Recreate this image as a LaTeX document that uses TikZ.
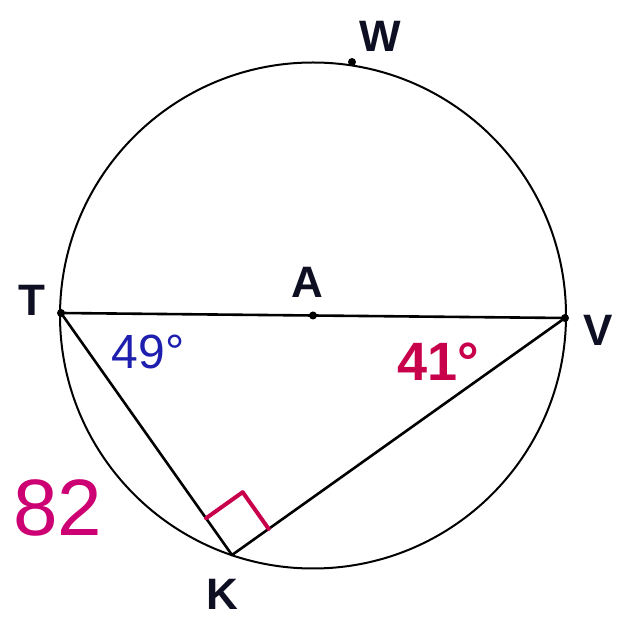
\documentclass[tikz,border=0pt]{standalone}
\usepackage{fontspec}
\setmainfont{Liberation Sans}
\usetikzlibrary{calc}

\definecolor{inkblue}{RGB}{30,30,175}
\definecolor{inkred}{RGB}{200,0,75}
\definecolor{inkpink}{RGB}{205,0,115}
\definecolor{inkdark}{RGB}{15,15,35}

\tikzset{
  ptlabel/.style={anchor=center,inner sep=0pt,text=inkdark,font=\fontsize{44}{50}\selectfont\bfseries},
  handnum/.style={anchor=center,inner sep=0pt,font=\fontsize{#1}{#1}\selectfont},
  dot/.style={fill=black},
}

\begin{document}
\begin{tikzpicture}[x=1pt, y=-1pt, line width=2.6pt, line cap=round, line join=round]

  %% ════ 点 ════
  \coordinate (A) at (313.0,315.5);
  \coordinate (T) at (61.0,313.0);
  \coordinate (V) at (565.0,318.0);
  \coordinate (K) at (232.0,555.0);
  \coordinate (W) at (352.0,62.0);

  %% ════ 圆与弦 ════
  \draw[line width=2.0pt] (A) circle (253);
  \draw (T) -- (V);
  \draw (T) -- (K) -- (V);

  %% ════ 直角记号 ════
  \coordinate (KT) at ($(K)!45pt!(T)$);
  \coordinate (KV) at ($(K)!45pt!(V)$);
  \coordinate (KC) at ($(KT)+(KV)-(K)$);
  \draw[inkred, line width=4.0pt] (KT) -- (KC) -- (KV);

  %% ════ 实心点 ════
  \foreach \p in {A,T,V,W}
    \fill[dot] (\p) circle (4.0);

  %% ════ 标签 ════
  \node[ptlabel] (lW) at (380.0,36.0) {W};
  \node[ptlabel] (lT) at (32.0,300.0) {T};
  \node[ptlabel] (lA) at (307.0,282.0) {A};
  \node[ptlabel] (lV) at (598.0,330.0) {V};
  \node[ptlabel] (lK) at (222.0,594.0) {K};

  %% ════ 手写数字 ════
  \node[handnum=48, text=inkblue] (ang49) at (148.0,352.0) {49°};
  \node[handnum=54, text=inkred] (ang41) at (438.0,362.0) {\bfseries 41°};
  \node[handnum=80, text=inkpink] (arc82) at (58.0,508.0) {82};

  \pgfresetboundingbox
  \path[use as bounding box] (0,0) rectangle (622,617);
\end{tikzpicture}
\end{document}
